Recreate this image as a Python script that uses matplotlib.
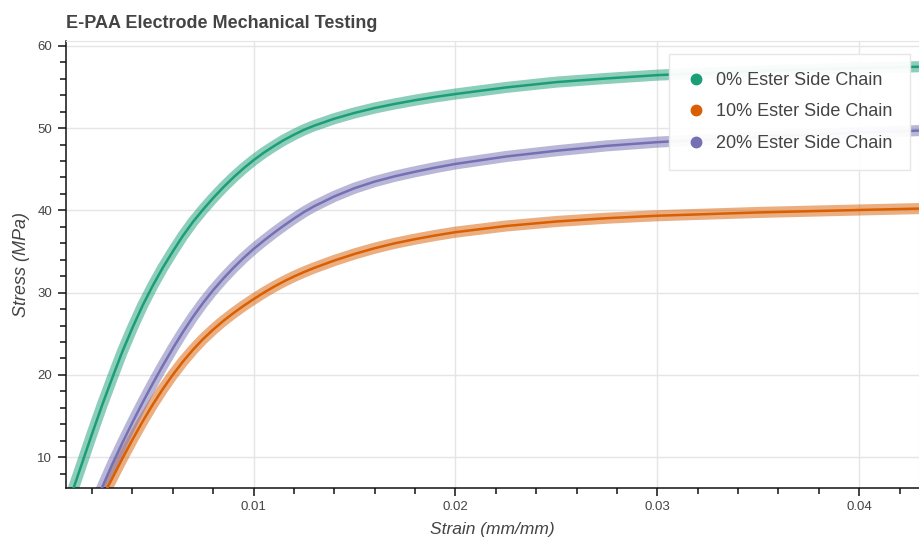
import numpy as np
import matplotlib.pyplot as plt
from matplotlib.lines import Line2D
from matplotlib.ticker import MultipleLocator

plt.rcParams['font.family'] = ['Liberation Sans', 'DejaVu Sans']

# stress-strain curves, strain in mm/mm, stress in MPa
strain_0 = [0.0005, 0.0010, 0.0015, 0.0020, 0.0025, 0.0030, 0.0035, 0.0040,
            0.0045, 0.0050, 0.0055, 0.0060, 0.0065, 0.0070, 0.0075, 0.0080,
            0.0085, 0.0090, 0.0095, 0.0100, 0.0105, 0.0110, 0.0115, 0.0120,
            0.0125, 0.0130, 0.0140, 0.0150, 0.0160, 0.0170, 0.0180, 0.0190,
            0.0200, 0.0225, 0.0250, 0.0275, 0.0300, 0.0350, 0.0400, 0.0435]
stress_0 = [2.0, 5.6, 9.2, 12.8, 16.3, 19.6, 22.8, 25.7,
            28.4, 30.8, 33.0, 35.0, 36.9, 38.6, 40.1, 41.5,
            42.8, 44.0, 45.1, 46.1, 47.0, 47.8, 48.55, 49.2,
            49.8, 50.3, 51.15, 51.85, 52.45, 52.95, 53.4, 53.8,
            54.15, 54.95, 55.6, 56.05, 56.45, 56.95, 57.3, 57.5]

strain_10 = [0.0020, 0.0025, 0.0030, 0.0035, 0.0040, 0.0045, 0.0050, 0.0055,
             0.0060, 0.0065, 0.0070, 0.0075, 0.0080, 0.0085, 0.0090, 0.0095,
             0.0100, 0.0105, 0.0110, 0.0115, 0.0120, 0.0125, 0.0130, 0.0140,
             0.0150, 0.0160, 0.0170, 0.0180, 0.0190, 0.0200, 0.0225, 0.0250,
             0.0275, 0.0300, 0.0350, 0.0400, 0.0435]
stress_10 = [2.6, 5.0, 7.4, 9.8, 12.1, 14.3, 16.35, 18.25,
             20.0, 21.6, 23.05, 24.35, 25.5, 26.55, 27.5, 28.38,
             29.2, 29.98, 30.7, 31.36, 31.96, 32.5, 33.0, 33.9,
             34.7, 35.4, 36.0, 36.5, 36.95, 37.35, 38.1, 38.65,
             39.05, 39.35, 39.75, 40.05, 40.25]

strain_20 = [0.0020, 0.0025, 0.0030, 0.0035, 0.0040, 0.0045, 0.0050, 0.0055,
             0.0060, 0.0065, 0.0070, 0.0075, 0.0080, 0.0085, 0.0090, 0.0095,
             0.0100, 0.0105, 0.0110, 0.0115, 0.0120, 0.0125, 0.0130, 0.0140,
             0.0150, 0.0160, 0.0170, 0.0180, 0.0190, 0.0200, 0.0225, 0.0250,
             0.0275, 0.0300, 0.0350, 0.0400, 0.0435]
stress_20 = [3.4, 6.3, 9.1, 11.7, 14.2, 16.6, 18.9, 21.1,
             23.2, 25.2, 27.05, 28.75, 30.3, 31.7, 33.0, 34.2,
             35.3, 36.3, 37.25, 38.15, 39.0, 39.8, 40.5, 41.7,
             42.7, 43.5, 44.15, 44.7, 45.2, 45.65, 46.55, 47.25,
             47.85, 48.3, 48.95, 49.45, 49.75]

labels = ['0% Ester Side Chain', '10% Ester Side Chain', '20% Ester Side Chain']
colors = ['#1b9e77', '#d95f02', '#7570b3']

fig = plt.figure(figsize=(9.19, 5.40), dpi=100)
ax = fig.add_axes([66 / 919, 1 - 487.5 / 540, 853 / 919, 446.5 / 540])

series = [(strain_0, stress_0), (strain_10, stress_10), (strain_20, stress_20)]
# wide translucent band under each curve, thin solid line on top
for (x, y), c in zip(series, colors):
    ax.plot(x, y, color=c, lw=8, alpha=0.5, solid_capstyle='butt',
            solid_joinstyle='round', zorder=2)
for (x, y), c in zip(series, colors):
    ax.plot(x, y, color=c, lw=1.8, solid_joinstyle='round', zorder=3)

ax.set_xlim(0.000713, 0.04296)
ax.set_ylim(6.3, 60.6)

ax.xaxis.set_major_locator(MultipleLocator(0.01))
ax.xaxis.set_minor_locator(MultipleLocator(0.002))
ax.yaxis.set_major_locator(MultipleLocator(10))
ax.yaxis.set_minor_locator(MultipleLocator(2))
ax.set_xticks([0.01, 0.02, 0.03, 0.04])
ax.set_xticklabels(['0.01', '0.02', '0.03', '0.04'])

ax.grid(True, which='major', color='#e5e5e5', lw=1)
ax.set_axisbelow(True)

for side in ['top', 'right']:
    ax.spines[side].set_color('#e5e5e5')
for side in ['left', 'bottom']:
    ax.spines[side].set_color('#111111')
    ax.spines[side].set_linewidth(1.1)

ax.tick_params(which='major', direction='out', length=6, width=1.1,
               color='#111111', labelsize=9.5, labelcolor='#444444', pad=4)
ax.tick_params(which='minor', direction='out', length=4, width=1.1,
               color='#111111')

ax.set_xlabel('Strain (mm/mm)', fontsize=12.5, style='italic', color='#444444',
              labelpad=6)
ax.set_ylabel('Stress (MPa)', fontsize=13, style='italic', color='#444444',
              labelpad=5)
fig.text(66 / 919, 1 - 28.3 / 540, 'E-PAA Electrode Mechanical Testing',
         fontsize=13, fontweight='bold', color='#444444', va='baseline', ha='left')

handles = [Line2D([], [], ls='', marker='o', markersize=7.5, color=c) for c in colors]
leg = ax.legend(handles, labels, loc='upper left', bbox_to_anchor=(0.707, 0.971),
                borderaxespad=0, fontsize=13, labelcolor='#444444',
                frameon=True, fancybox=False, edgecolor='#e5e5e5',
                framealpha=0.95, handlelength=1.0, handletextpad=0.6,
                labelspacing=0.8, borderpad=1.0)
leg.get_frame().set_linewidth(1)

fig.savefig('out.png', dpi=100)
